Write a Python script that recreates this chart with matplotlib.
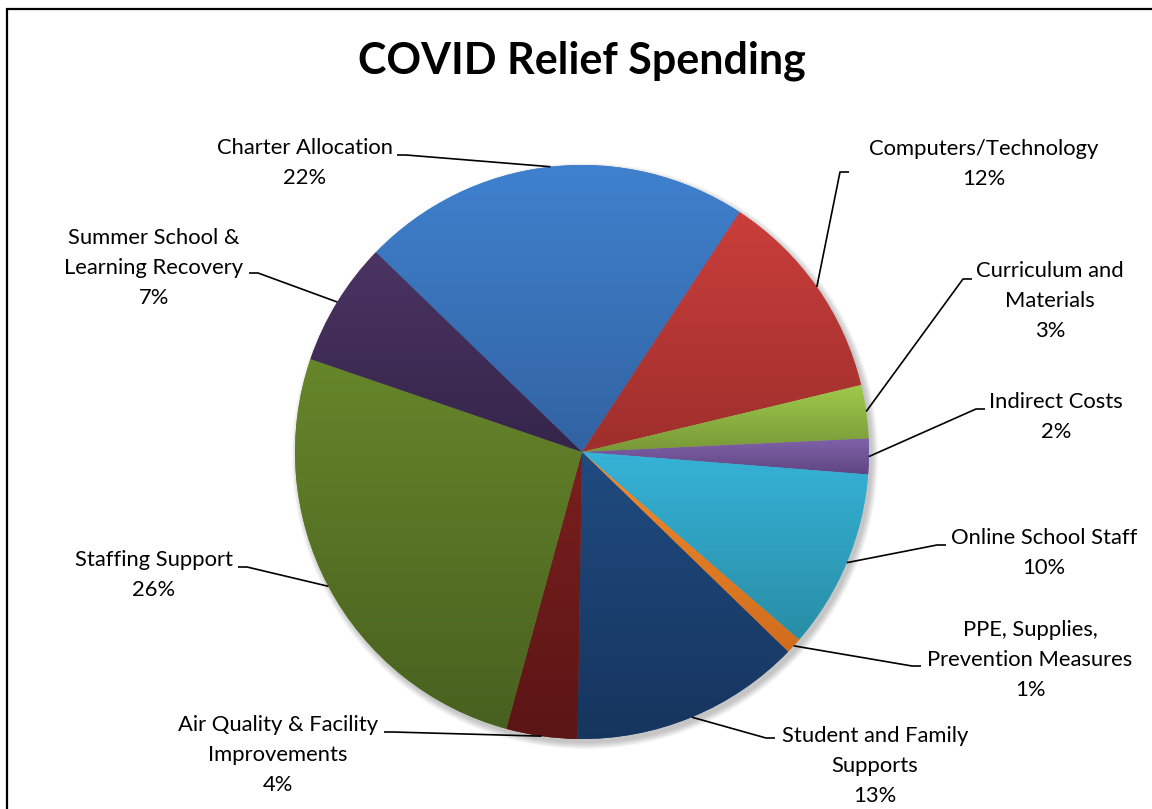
import numpy as np
import matplotlib
matplotlib.use('Agg')
import matplotlib.pyplot as plt
from matplotlib.colors import to_rgb
from matplotlib.patches import Rectangle, Circle

# data, in the order Excel plotted the series (clockwise)
categories = ['Charter Allocation', 'Computers/Technology', 'Curriculum and\nMaterials',
              'Indirect Costs', 'Online School Staff', 'PPE, Supplies,\nPrevention Measures',
              'Student and Family\nSupports', 'Air Quality & Facility\nImprovements',
              'Staffing Support', 'Summer School &\nLearning Recovery']
values = [22.0, 12.0, 3.0, 2.0, 10.1, 0.9, 13.0, 4.0, 26.0, 7.0]

# gradient colours (top -> bottom of each slice)
light = ['#3F81CE', '#CA3E3B', '#9FC94B', '#8061A9', '#36B3D7',
         '#F28B2C', '#204B80', '#7B1F1F', '#66862A', '#4B3463']
dark = ['#3263A2', '#9E2F2C', '#789838', '#5F4682', '#288DA6',
        '#D06C1D', '#16355E', '#5B1515', '#48601F', '#35254A']

# label layout in pixels: text centre x, text centre y, leader attach x, attach y, side
label_pos = [(305, 163, 397, 155, 1), (984, 164, 849, 172, -1),
             (1050, 301, 972, 279, -1), (1056, 417, 985, 409, -1),
             (1044, 553, 946, 545, -1), (1030, 660, 921, 666, -1),
             (875, 766, 775, 738, -1), (278, 755, 384, 732, 1),
             (154, 575, 238, 567, 1), (154, 268, 249, 273, 1)]

W, H = 1152, 809
CX, CY, R = 582, H - 452, 287

plt.rcParams['font.family'] = ['Lato', 'DejaVu Sans']

fig = plt.figure(figsize=(W / 100, H / 100), dpi=100)
ax = fig.add_axes([0, 0, 1, 1])

# soft shadow behind the pie
for i in range(10):
    ax.add_patch(Circle((CX + 3, CY - 4), R + 0.7 * i, color='black', alpha=0.025,
                        lw=0, zorder=1))

wedges, _ = ax.pie(values, startangle=135.9, counterclock=False, center=(CX, CY),
                   radius=R, colors=light, wedgeprops=dict(linewidth=0, zorder=2))

grad = np.linspace(0, 1, 256)[:, None, None]
for w, c1, c2 in zip(wedges, light, dark):
    w.set_zorder(2)
    ext = w.get_path().get_extents()
    rgb = (1 - grad) * np.array(to_rgb(c1)) + grad * np.array(to_rgb(c2))
    rgb = np.repeat(rgb, 2, axis=1)
    im = ax.imshow(rgb, extent=[ext.x0, ext.x1, ext.y0, ext.y1], origin='upper',
                   aspect='auto', zorder=3, interpolation='bilinear')
    im.set_clip_path(w)

# labels with leader lines
for w, cat, v, (tx, ty, lx, ly, side) in zip(wedges, categories, values, label_pos):
    mid = np.deg2rad((w.theta1 + w.theta2) / 2)
    px, py = CX + R * np.cos(mid), CY + R * np.sin(mid)
    ax.plot([lx, lx + side * 9, px], [H - ly, H - ly, py], color='black', lw=1.2,
            zorder=4, solid_capstyle='butt')
    ax.text(tx, H - ty, f'{cat}\n{v:.0f}%', ha='center', va='center', fontsize=15.8,
            linespacing=1.62, color='black', zorder=5)

ax.text(582, H - 61, 'COVID Relief Spending', ha='center', va='center',
        fontsize=31, fontweight='bold', color='black')

# chart area border (cropped on right and bottom)
ax.add_patch(Rectangle((7, -20), W + 20, H - 9 + 20, fill=False, lw=1.6,
                       edgecolor='black', zorder=6))

ax.set_xlim(0, W)
ax.set_ylim(0, H)
ax.set_aspect('auto')
ax.axis('off')

fig.savefig('out.png', dpi=100)
